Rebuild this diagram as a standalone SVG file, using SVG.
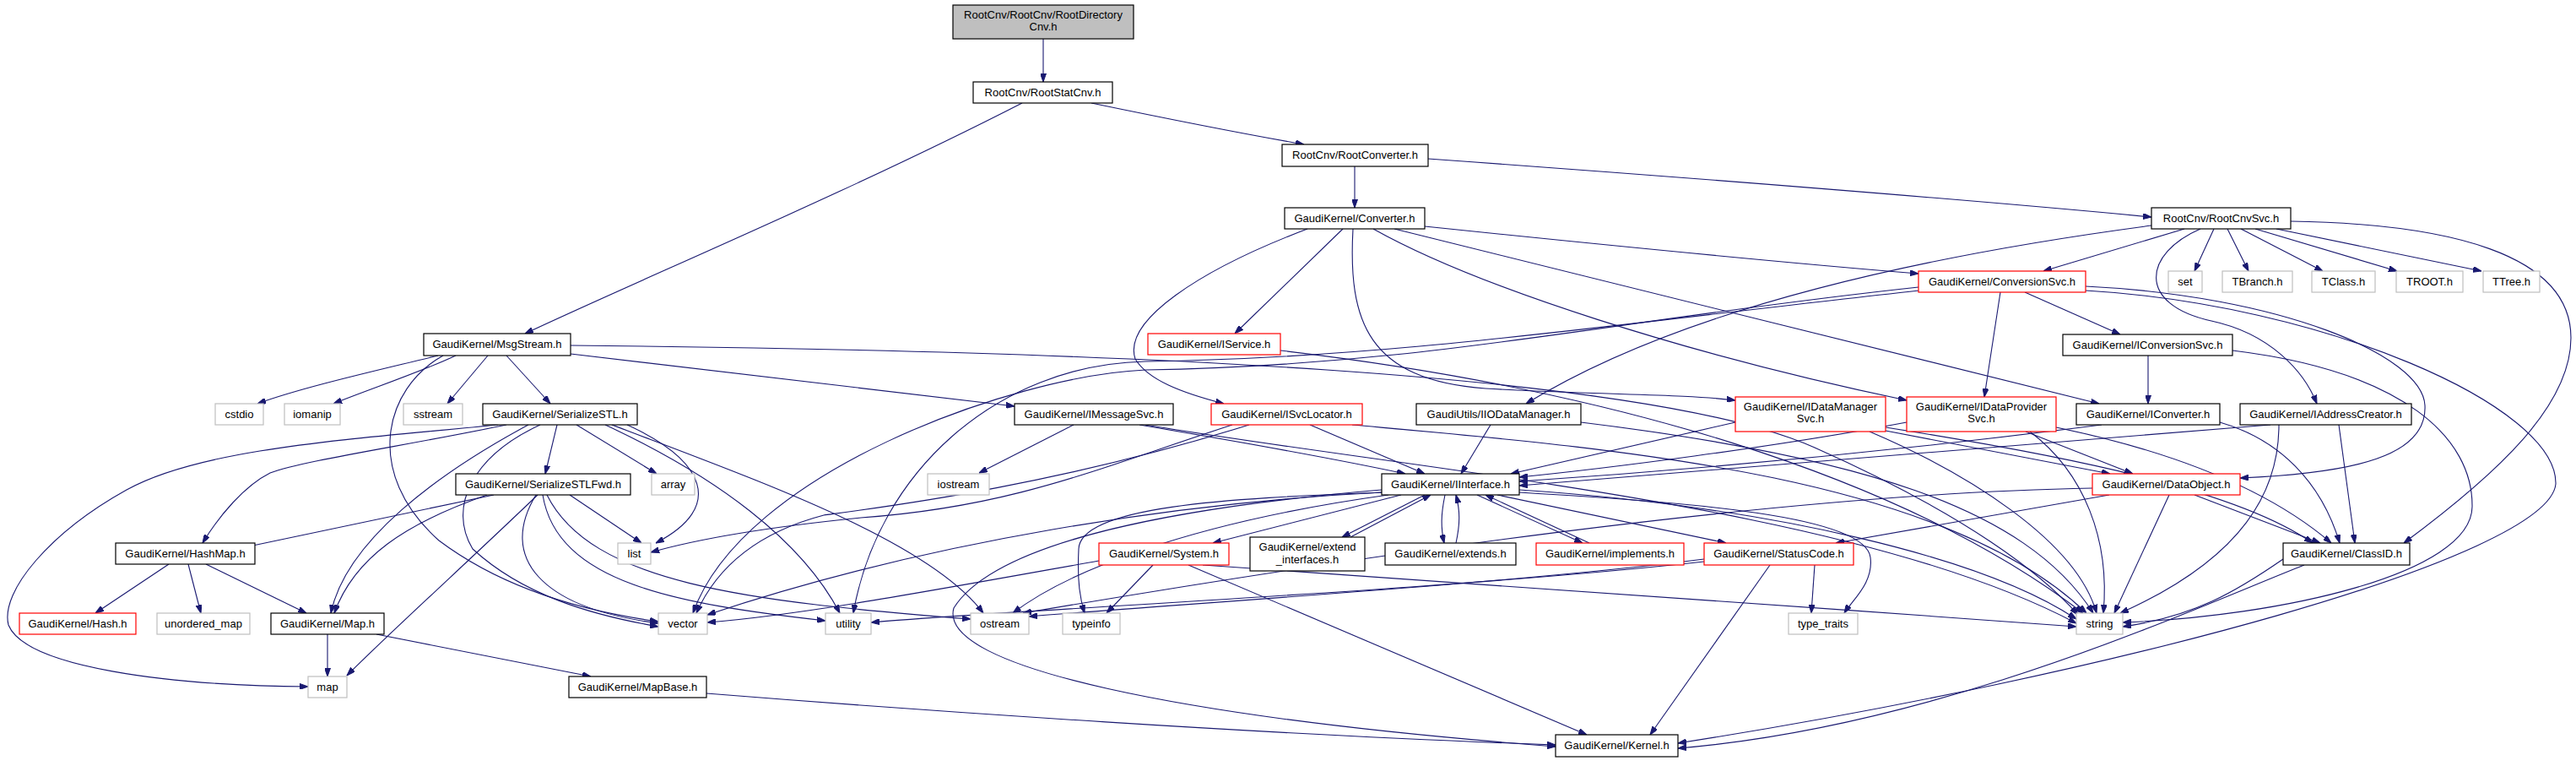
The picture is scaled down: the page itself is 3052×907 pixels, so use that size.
<svg xmlns="http://www.w3.org/2000/svg" width="3052" height="907" viewBox="0 0 3052 907">
<style>
.n rect{fill:#fff;stroke:#000;stroke-width:1.2}
.r rect{stroke:#ff0000}
.g rect{stroke:#bfbfbf}
.root rect{fill:#bfbfbf}
text{font-family:"Liberation Sans",Arial,Helvetica,sans-serif;font-size:13px;text-anchor:middle;fill:#000}
#edges path{fill:none;stroke:#191970;stroke-width:1.1;marker-end:url(#a)}
</style>
<defs>
<marker id="a" viewBox="0 0 10 7" refX="10" refY="3.5" markerWidth="10" markerHeight="7" markerUnits="userSpaceOnUse" orient="auto"><path d="M0,0L10,3.5L0,7z" fill="#191970" stroke="#191970"/></marker>
</defs>
<rect x="0" y="0" width="3052" height="907" fill="#fff"/>
<g id="edges">
<path d="M1236,46 L1236,97"/>
<path d="M1211,122 C1000,230 760,330 622,395"/>
<path d="M1293,122 C1380,140 1470,158 1545,171"/>
<path d="M1605,197 L1605,246"/>
<path d="M1692,188 C2000,210 2350,238 2549,257"/>
<path d="M1688,268 C1900,290 2100,310 2273,324"/>
<path d="M1591,271 L1463,395"/>
<path d="M1549,271 C1420,320 1330,380 1345,425 C1360,450 1400,465 1450,478"/>
<path d="M1603,271 C1597,380 1620,450 1760,460 C1900,468 1990,466 2056,474"/>
<path d="M1627,271 C1750,340 2000,420 2259,474"/>
<path d="M1652,271 L2487,478"/>
<path d="M2588,271 L2421,321"/>
<path d="M2549,267 C2300,300 2000,360 1808,478"/>
<path d="M2623,271 L2600,321"/>
<path d="M2639,271 L2664,321"/>
<path d="M2655,271 L2752,321"/>
<path d="M2672,271 L2840,321"/>
<path d="M2697,271 L2940,321"/>
<path d="M2714,262 C2900,265 3046,300 3046,400 C3046,480 2960,560 2848,643"/>
<path d="M2607,271 C2540,300 2530,360 2620,380 C2690,395 2730,440 2745,478"/>
<path d="M2399,346 L2512,396"/>
<path d="M2370,346 L2351,470"/>
<path d="M2471,339 C2700,350 2870,420 2873,480 C2876,540 2790,560 2654,566"/>
<path d="M2471,344 C2750,360 3030,480 3028,573 C3020,660 2500,800 1988,880"/>
<path d="M2273,340 C1900,380 1700,432 1357,438 C1200,445 880,560 821,726"/>
<path d="M2274,344 C1900,385 1650,424 1357,428 C1180,432 1040,560 1011,726"/>
<path d="M519,421 C450,438 360,458 305,478"/>
<path d="M540,421 C500,440 440,460 395,478"/>
<path d="M578,421 L530,478"/>
<path d="M600,421 L652,478"/>
<path d="M676,419 L1202,481"/>
<path d="M676,409 C1300,415 1950,440 2150,530 C2330,610 2420,680 2462,728"/>
<path d="M525,421 C455,460 430,560 520,640 C600,700 700,725 780,736"/>
<path d="M660,503 L646,561"/>
<path d="M683,503 L778,561"/>
<path d="M743,503 C835,545 860,600 777,643"/>
<path d="M600,503 C480,528 360,545 320,560 C290,575 260,610 240,643"/>
<path d="M590,503 C420,520 240,530 150,580 C60,630 0,700 10,740 C30,790 200,812 365,813"/>
<path d="M626,503 C520,560 410,640 392,726"/>
<path d="M640,503 C560,540 530,600 560,650 C620,705 700,728 780,742"/>
<path d="M717,503 C850,565 950,640 995,726"/>
<path d="M725,503 C900,570 1100,640 1165,726"/>
<path d="M675,586 L760,643"/>
<path d="M585,586 L290,648"/>
<path d="M577,586 C480,620 420,660 396,726"/>
<path d="M637,586 C560,660 450,760 411,800"/>
<path d="M635,586 C590,660 640,720 780,738"/>
<path d="M643,586 C660,690 800,715 978,735"/>
<path d="M648,586 C700,690 880,712 1150,733"/>
<path d="M200,668 L113,726"/>
<path d="M223,668 L238,726"/>
<path d="M244,668 L363,726"/>
<path d="M388,751 L388,801"/>
<path d="M446,751 L700,801"/>
<path d="M837,821 C1100,842 1500,870 1843,882"/>
<path d="M1272,503 L1160,560"/>
<path d="M1350,503 C1480,525 1590,545 1665,561"/>
<path d="M1357,503 C1700,560 2200,600 2460,738"/>
<path d="M1552,503 L1688,561"/>
<path d="M1460,503 C1300,555 1200,600 1020,613 C900,625 820,640 771,654"/>
<path d="M1480,503 C1250,575 1050,600 976,610 C900,630 850,670 825,726"/>
<path d="M1602,503 C1900,530 2300,560 2472,726"/>
<path d="M1517,415 C1900,460 2250,560 2468,726"/>
<path d="M1766,503 L1731,561"/>
<path d="M1873,500 C2200,540 2400,600 2480,726"/>
<path d="M2056,500 L1790,561"/>
<path d="M2234,510 L2500,561"/>
<path d="M2215,511 C2330,560 2460,640 2484,726"/>
<path d="M2234,506 C2450,540 2650,580 2740,643"/>
<path d="M2259,500 C2100,530 1900,555 1800,565"/>
<path d="M2400,511 L2527,561"/>
<path d="M2405,511 C2470,560 2500,640 2492,726"/>
<path d="M2436,506 C2600,540 2700,590 2762,643"/>
<path d="M2545,421 L2545,478"/>
<path d="M2645,415 C2850,440 2930,520 2929,600 C2928,680 2700,730 2515,737"/>
<path d="M2490,503 C2200,540 1950,560 1800,570"/>
<path d="M2630,500 C2700,520 2750,570 2772,643"/>
<path d="M2690,503 C2300,535 1950,565 1800,575"/>
<path d="M2771,503 L2790,643"/>
<path d="M2700,503 C2700,580 2660,660 2512,726"/>
<path d="M2600,586 L2749,643"/>
<path d="M2570,586 L2505,726"/>
<path d="M2499,586 L2175,643"/>
<path d="M2479,578 C2100,585 1600,660 1212,726"/>
<path d="M1688,586 L1590,636"/>
<path d="M1600,636 L1695,586"/>
<path d="M1712,586 C1707,610 1707,625 1711,643"/>
<path d="M1725,643 C1730,620 1730,605 1725,586"/>
<path d="M1750,586 L1875,643"/>
<path d="M1883,643 L1760,586"/>
<path d="M1774,586 L2045,643"/>
<path d="M1660,586 L1437,643"/>
<path d="M1637,580 C1400,600 1180,640 1130,720 C1110,790 1400,850 1843,884"/>
<path d="M1640,583 C1450,590 1280,600 1278,650 C1276,690 1280,710 1285,726"/>
<path d="M1637,583 C1400,595 1100,640 838,728"/>
<path d="M1645,586 C1400,620 1260,680 1200,726"/>
<path d="M1800,583 C2000,595 2210,610 2216,660 C2220,690 2195,710 2185,726"/>
<path d="M1800,580 C2100,600 2350,660 2460,733"/>
<path d="M1366,669 L1311,726"/>
<path d="M1408,669 L1880,870"/>
<path d="M1425,669 C1700,690 2100,715 2460,742"/>
<path d="M1302,664 C1100,700 950,728 838,737"/>
<path d="M2150,669 L2146,726"/>
<path d="M2097,669 L1955,870"/>
<path d="M2019,662 C1800,690 1400,715 1219,730"/>
<path d="M2019,665 C1700,700 1200,722 1032,737"/>
<path d="M2730,669 C2600,720 2300,860 1988,886"/>
<path d="M2705,662 C2650,700 2600,730 2515,742"/>
</g>
<g id="n0" class="n root"><rect x="1129" y="6" width="214" height="40"/><text x="1236" y="22">RootCnv/RootCnv/RootDirectory</text><text x="1236" y="36">Cnv.h</text></g>
<g id="n1" class="n"><rect x="1153" y="97" width="165" height="25"/><text x="1235.5" y="114">RootCnv/RootStatCnv.h</text></g>
<g id="n2" class="n"><rect x="1519" y="171" width="173" height="26"/><text x="1605.5" y="188">RootCnv/RootConverter.h</text></g>
<g id="n3" class="n"><rect x="1522" y="246" width="166" height="25"/><text x="1605" y="263">GaudiKernel/Converter.h</text></g>
<g id="n4" class="n"><rect x="2549" y="246" width="165" height="25"/><text x="2631.5" y="263">RootCnv/RootCnvSvc.h</text></g>
<g id="n5" class="n"><rect x="502" y="395" width="174" height="26"/><text x="589" y="412">GaudiKernel/MsgStream.h</text></g>
<g id="n6" class="n r"><rect x="2273" y="321" width="198" height="25"/><text x="2372" y="338">GaudiKernel/ConversionSvc.h</text></g>
<g id="n7" class="n g"><rect x="2569" y="321" width="40" height="25"/><text x="2589" y="338">set</text></g>
<g id="n8" class="n g"><rect x="2633" y="321" width="83" height="25"/><text x="2674.5" y="338">TBranch.h</text></g>
<g id="n9" class="n g"><rect x="2739" y="321" width="75" height="25"/><text x="2776.5" y="338">TClass.h</text></g>
<g id="n10" class="n g"><rect x="2839" y="321" width="79" height="25"/><text x="2878.5" y="338">TROOT.h</text></g>
<g id="n11" class="n g"><rect x="2942" y="321" width="67" height="25"/><text x="2975.5" y="338">TTree.h</text></g>
<g id="n12" class="n r"><rect x="1360" y="395" width="157" height="25"/><text x="1438.5" y="412">GaudiKernel/IService.h</text></g>
<g id="n13" class="n"><rect x="2444" y="396" width="201" height="25"/><text x="2544.5" y="413">GaudiKernel/IConversionSvc.h</text></g>
<g id="n14" class="n g"><rect x="255" y="478" width="57" height="25"/><text x="283.5" y="495">cstdio</text></g>
<g id="n15" class="n g"><rect x="337" y="478" width="66" height="25"/><text x="370" y="495">iomanip</text></g>
<g id="n16" class="n g"><rect x="478" y="478" width="70" height="25"/><text x="513" y="495">sstream</text></g>
<g id="n17" class="n"><rect x="572" y="478" width="183" height="25"/><text x="663.5" y="495">GaudiKernel/SerializeSTL.h</text></g>
<g id="n18" class="n"><rect x="1202" y="478" width="188" height="25"/><text x="1296" y="495">GaudiKernel/IMessageSvc.h</text></g>
<g id="n19" class="n r"><rect x="1435" y="478" width="179" height="25"/><text x="1524.5" y="495">GaudiKernel/ISvcLocator.h</text></g>
<g id="n20" class="n"><rect x="1678" y="478" width="195" height="25"/><text x="1775.5" y="495">GaudiUtils/IIODataManager.h</text></g>
<g id="n21" class="n r"><rect x="2056" y="470" width="178" height="41"/><text x="2145" y="486">GaudiKernel/IDataManager</text><text x="2145" y="500">Svc.h</text></g>
<g id="n22" class="n r"><rect x="2259" y="470" width="177" height="41"/><text x="2347.5" y="486">GaudiKernel/IDataProvider</text><text x="2347.5" y="500">Svc.h</text></g>
<g id="n23" class="n"><rect x="2460" y="478" width="170" height="25"/><text x="2545" y="495">GaudiKernel/IConverter.h</text></g>
<g id="n24" class="n"><rect x="2654" y="478" width="203" height="25"/><text x="2755.5" y="495">GaudiKernel/IAddressCreator.h</text></g>
<g id="n25" class="n"><rect x="540" y="561" width="207" height="25"/><text x="643.5" y="578">GaudiKernel/SerializeSTLFwd.h</text></g>
<g id="n26" class="n g"><rect x="772" y="561" width="51" height="25"/><text x="797.5" y="578">array</text></g>
<g id="n27" class="n g"><rect x="1099" y="561" width="73" height="25"/><text x="1135.5" y="578">iostream</text></g>
<g id="n28" class="n"><rect x="1637" y="561" width="163" height="25"/><text x="1718.5" y="578">GaudiKernel/IInterface.h</text></g>
<g id="n29" class="n r"><rect x="2479" y="561" width="175" height="25"/><text x="2566.5" y="578">GaudiKernel/DataObject.h</text></g>
<g id="n30" class="n g"><rect x="732" y="643" width="39" height="25"/><text x="751.5" y="660">list</text></g>
<g id="n31" class="n"><rect x="137" y="643" width="165" height="25"/><text x="219.5" y="660">GaudiKernel/HashMap.h</text></g>
<g id="n32" class="n"><rect x="1481" y="636" width="136" height="40"/><text x="1549" y="652">GaudiKernel/extend</text><text x="1549" y="667">_interfaces.h</text></g>
<g id="n33" class="n"><rect x="1641" y="643" width="155" height="26"/><text x="1718.5" y="660">GaudiKernel/extends.h</text></g>
<g id="n34" class="n r"><rect x="1820" y="643" width="175" height="26"/><text x="1907.5" y="660">GaudiKernel/implements.h</text></g>
<g id="n35" class="n r"><rect x="1302" y="643" width="154" height="26"/><text x="1379" y="660">GaudiKernel/System.h</text></g>
<g id="n36" class="n r"><rect x="2019" y="643" width="177" height="26"/><text x="2107.5" y="660">GaudiKernel/StatusCode.h</text></g>
<g id="n37" class="n"><rect x="2705" y="643" width="150" height="26"/><text x="2780" y="660">GaudiKernel/ClassID.h</text></g>
<g id="n38" class="n r"><rect x="23" y="726" width="138" height="25"/><text x="92" y="743">GaudiKernel/Hash.h</text></g>
<g id="n39" class="n g"><rect x="186" y="726" width="110" height="25"/><text x="241" y="743">unordered_map</text></g>
<g id="n40" class="n"><rect x="321" y="726" width="134" height="25"/><text x="388" y="743">GaudiKernel/Map.h</text></g>
<g id="n41" class="n g"><rect x="780" y="726" width="58" height="25"/><text x="809" y="743">vector</text></g>
<g id="n42" class="n g"><rect x="978" y="726" width="54" height="25"/><text x="1005" y="743">utility</text></g>
<g id="n43" class="n g"><rect x="1150" y="726" width="69" height="25"/><text x="1184.5" y="743">ostream</text></g>
<g id="n44" class="n g"><rect x="1259" y="726" width="68" height="25"/><text x="1293" y="743">typeinfo</text></g>
<g id="n45" class="n g"><rect x="2119" y="726" width="82" height="25"/><text x="2160" y="743">type_traits</text></g>
<g id="n46" class="n g"><rect x="2460" y="726" width="55" height="25"/><text x="2487.5" y="743">string</text></g>
<g id="n47" class="n g"><rect x="365" y="801" width="46" height="25"/><text x="388" y="818">map</text></g>
<g id="n48" class="n"><rect x="674" y="801" width="163" height="25"/><text x="755.5" y="818">GaudiKernel/MapBase.h</text></g>
<g id="n49" class="n"><rect x="1843" y="870" width="145" height="26"/><text x="1915.5" y="887">GaudiKernel/Kernel.h</text></g>
</svg>
